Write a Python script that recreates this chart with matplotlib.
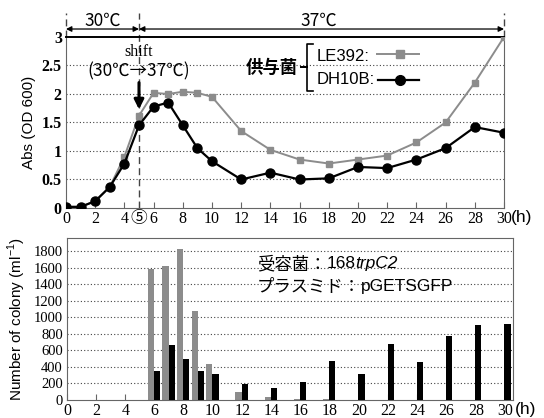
import matplotlib.pyplot as plt
import numpy as np

# growth curves (OD600)
hours = [0, 1, 2, 3, 4, 5, 6, 7, 8, 9, 10, 12, 14, 16, 18, 20, 22, 24, 26, 28, 30]
od_le392 = [0.02, 0.02, 0.12, 0.37, 0.9, 1.62, 2.02, 2.0, 2.04, 2.02, 1.95,
            1.35, 1.02, 0.85, 0.78, 0.85, 0.92, 1.15, 1.5, 2.2, 3.0]
od_dh10b = [0.02, 0.02, 0.12, 0.37, 0.78, 1.45, 1.78, 1.85, 1.45, 1.05, 0.82,
            0.5, 0.62, 0.5, 0.52, 0.72, 0.7, 0.85, 1.05, 1.42, 1.32]

# colony counts
bar_hours = [6, 7, 8, 9, 10, 12, 14, 16, 18, 20, 22, 24, 26, 28, 30]
col_le392 = [1580, 1620, 1820, 1080, 430, 100, 40, 12, 10, 0, 0, 0, 0, 0, 0]
col_dh10b = [350, 660, 500, 350, 310, 195, 140, 215, 470, 320, 680, 455, 770, 905, 920]

top_ticks = [0, 2, 4, 5, 6, 8, 10, 12, 14, 16, 18, 20, 22, 24, 26, 28, 30]
bot_ticks = list(range(0, 31, 2))

GRAY = '#8c8c8c'
SPINE = '#666666'
sans = ['Liberation Sans', 'Noto Sans CJK JP']
cjk = ['Noto Sans CJK JP', 'DejaVu Sans']

plt.rcParams['font.family'] = ['Liberation Serif']

fig = plt.figure(figsize=(5.44, 4.18), dpi=100)

# ---- top panel ----
ax = fig.add_axes([0.1213, 0.5024, 0.8052, 0.4091])
ax.plot(hours, od_le392, color=GRAY, lw=1.4, marker='s', ms=4.5, zorder=3)
ax.plot(hours, od_dh10b, color='black', lw=1.6, marker='o', ms=6.5, zorder=4)
ax.set_xlim(0, 30)
ax.set_ylim(0, 3)
for g in [0.5, 1, 1.5, 2, 2.5]:
    ax.axhline(g, color='#444444', lw=0.8, ls=(0, (1, 2)), zorder=1)
ax.set_yticks([0, 0.5, 1, 1.5, 2, 2.5, 3])
ax.set_yticklabels(['0', '0.5', '1', '1.5', '2', '2.5', '3'])
for lab in ax.get_yticklabels():
    lab.set_fontweight('bold')
    lab.set_fontsize(11.5)
ax.set_xticks(top_ticks)
labels = [str(t) for t in top_ticks]
labels[3] = ''
ax.set_xticklabels(labels)
ax.tick_params(axis='x', direction='in', length=4, pad=2, color=SPINE, labelsize=11.5)
ax.tick_params(axis='y', length=0, pad=3)
ax.text(5, -0.04, '⑤', ha='center', va='top', fontsize=12, family=cjk)
ax.text(31.2, -0.04, '(h)', ha='center', va='top', fontsize=12.5, family=sans)
for s in ['left', 'right', 'bottom']:
    ax.spines[s].set_color(SPINE)
ax.spines['top'].set_color('black')
ax.spines['top'].set_linewidth(1.4)
ax.set_ylabel('Abs (OD 600)', family=sans, fontsize=11, labelpad=4)

# temperature arrows above the panel
ax.plot([5, 5], [0, 3.42], color='#444444', lw=1, ls=(0, (5, 3)), clip_on=False, zorder=2)
ax.plot([0, 0], [3.0, 3.42], color='#444444', lw=1, ls=(0, (5, 3)), clip_on=False)
ax.plot([30, 30], [3.0, 3.42], color='#444444', lw=1, ls=(0, (5, 3)), clip_on=False)
ax.annotate('', xy=(0, 3.14), xytext=(5, 3.14), annotation_clip=False,
            arrowprops=dict(arrowstyle='<|-|>', color='black', lw=0.9,
                            mutation_scale=8, shrinkA=0, shrinkB=0))
ax.annotate('', xy=(5, 3.14), xytext=(30, 3.14), annotation_clip=False,
            arrowprops=dict(arrowstyle='<|-|>', color='black', lw=0.9,
                            mutation_scale=8, shrinkA=0, shrinkB=0))
ax.text(2.5, 3.29, '30℃', ha='center', va='center', fontsize=12.5, family=cjk)
ax.text(17.3, 3.29, '37℃', ha='center', va='center', fontsize=12.5, family=cjk)

# shift annotation
ax.text(5, 2.73, 'shift', ha='center', va='center', fontsize=11.5)
ax.text(5, 2.39, '(30℃→37℃)', ha='center', va='center', fontsize=12.5, family=cjk)
ax.annotate('', xy=(5, 1.73), xytext=(5, 2.2),
            arrowprops=dict(arrowstyle='-|>', color='black', lw=2.2,
                            mutation_scale=14, shrinkA=0, shrinkB=0))

# legend drawn by hand
ax.text(12.3, 2.46, '供与菌', ha='left', va='center', fontsize=12.5,
        family=cjk, fontweight='bold')
bx0, bx1 = 16.35, 16.9
ax.plot([bx1, bx0 + 0.15, bx0 + 0.15, bx0 - 0.25, bx0 + 0.15, bx0 + 0.15, bx1],
        [2.88, 2.88, 2.48, 2.48, 2.48, 2.06, 2.06], color='black', lw=1.2,
        clip_on=False, solid_joinstyle='round')
ax.text(17.2, 2.66, 'LE392:', ha='left', va='center', fontsize=12, family=sans)
ax.text(17.2, 2.25, 'DH10B:', ha='left', va='center', fontsize=12, family=sans)
ax.plot([21.3, 24.2], [2.7, 2.7], color=GRAY, lw=1.4, clip_on=False)
ax.plot([22.9], [2.7], color=GRAY, marker='s', ms=5.5, clip_on=False)
ax.plot([21.4, 24.2], [2.25, 2.25], color='black', lw=1.6, clip_on=False)
ax.plot([22.9], [2.25], color='black', marker='o', ms=7, clip_on=False)

# ---- bottom panel ----
bx = fig.add_axes([0.1232, 0.043, 0.8198, 0.388])
bx.set_xlim(0, 30.55)
bx.set_ylim(0, 1960)
for g in range(200, 2000, 200):
    bx.axhline(g, color='#444444', lw=0.8, ls=(0, (1, 2)), zorder=1)
bh = np.array(bar_hours)
bx.bar(bh - 0.25, col_le392, width=0.42, color=GRAY, zorder=2)
bx.bar(bh + 0.17, col_dh10b, width=0.42, color='black', zorder=3)
bx.set_xticks(bot_ticks)
bx.set_yticks(range(0, 2000, 200))
bx.tick_params(axis='x', direction='in', length=4, pad=2, color=SPINE, labelsize=11.5)
bx.tick_params(axis='y', length=0, pad=3, labelsize=10.5)
bx.text(31.4, -25, '(h)', ha='center', va='top', fontsize=12.5, family=sans)
for s in bx.spines.values():
    s.set_color(SPINE)
bx.set_ylabel('Number of colony (ml$^{\\mathregular{-1}}$)', family=sans,
              fontsize=11, labelpad=4)

t1 = bx.text(13.0, 1645, '受容菌：', ha='left', va='center', fontsize=12.5, family=cjk)
t2 = bx.annotate('168', xy=(1, 0.5), xycoords=t1, ha='left', va='center',
                 fontsize=12.5, family=sans)
bx.annotate('trpC2', xy=(1, 0.5), xycoords=t2, ha='left', va='center',
            fontsize=12.5, family=sans, style='italic')
t3 = bx.text(13.0, 1377, 'プラスミド：', ha='left', va='center', fontsize=12.5, family=cjk)
bx.annotate('pGETSGFP', xy=(1, 0.5), xycoords=t3, ha='left', va='center',
            fontsize=12.5, family=sans)

fig.savefig('out.png', dpi=100)
